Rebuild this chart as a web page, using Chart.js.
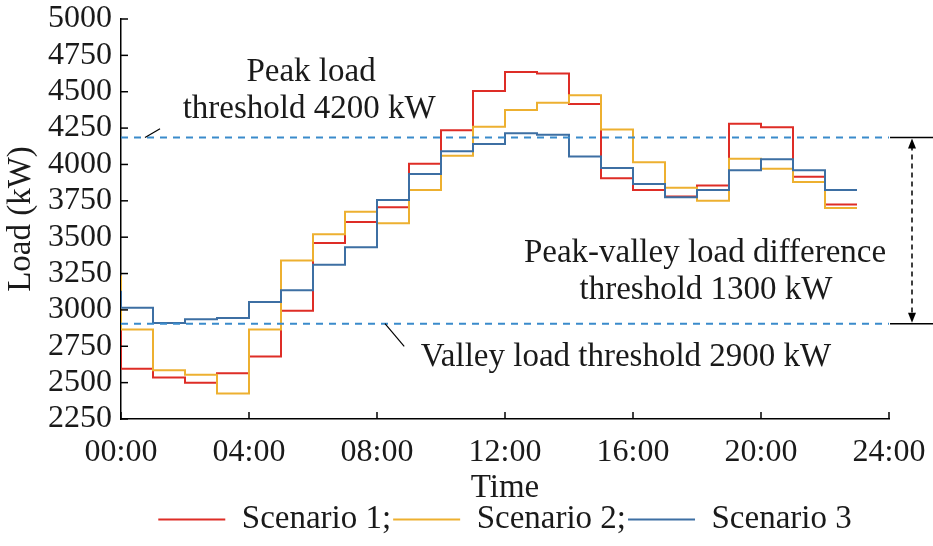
<!DOCTYPE html>
<html>
<head>
<meta charset="utf-8">
<script src="https://cdn.jsdelivr.net/npm/chart.js@4.4.0/dist/chart.umd.min.js"></script>
<style>
  html, body { margin: 0; padding: 0; background: #fff; }
  #wrap { width: 933px; height: 546px; }
</style>
</head>
<body>
<div id="wrap"><canvas id="loadChart" width="933" height="546"></canvas></div>
<script>
// hour at which each step starts (last step runs to 23:00)
const hours = [0, 1, 2, 3, 4, 5, 6, 7, 8, 9, 10, 11, 12, 13, 14, 15, 16, 17, 18, 19, 20, 21, 22];

// load per hour, kW
const scenario1 = [2595, 2535, 2500, 2565, 2680, 2995, 3460, 3605, 3705, 4005, 4235, 4505,
                   4635, 4625, 4415, 3905, 3825, 3780, 3855, 4280, 4255, 3915, 3725];
const scenario2 = [2865, 2585, 2555, 2425, 2865, 3340, 3520, 3675, 3595, 3825, 4060, 4260,
                   4375, 4425, 4475, 4240, 4015, 3840, 3750, 4040, 3970, 3880, 3700];
const scenario3 = [3015, 2910, 2935, 2945, 3055, 3135, 3310, 3430, 3755, 3935, 4090, 4140,
                   4215, 4205, 4055, 3975, 3865, 3775, 3825, 3960, 4035, 3960, 3825];

// value just before 00:00, only the vertical jump at the axis is visible
const startLoad = [2870, 3230, 3125];

const seriesLabels = ["Scenario 1;", "Scenario 2;", "Scenario 3"];
const seriesColors = ["#DE2D26", "#EDB030", "#3D6FA3"];

const peakThreshold = 4185;
const valleyThreshold = 2905;

const xTickLabels = ["00:00", "04:00", "08:00", "12:00", "16:00", "20:00", "24:00"];

const FONT = '"Liberation Serif", "Times New Roman", serif';

function stairs(values, start) {
  const pts = [{ x: -1, y: start }];
  hours.forEach(function (h, i) {
    pts.push({ x: h, y: values[i] });
  });
  // close the last step at 23:00
  pts.push({ x: hours[hours.length - 1] + 1, y: values[values.length - 1] });
  return pts;
}

const allSeries = [scenario1, scenario2, scenario3];

const datasets = allSeries.map(function (vals, i) {
  return {
    label: seriesLabels[i],
    data: stairs(vals, startLoad[i]),
    borderColor: seriesColors[i],
    backgroundColor: seriesColors[i],
    borderWidth: 2,
    stepped: true,
    pointRadius: 0,
    fill: false,
    order: 3 - i
  };
});

// threshold lines
[peakThreshold, valleyThreshold].forEach(function (v) {
  datasets.push({
    label: "",
    data: [{ x: 0, y: v }, { x: 24, y: v }],
    borderColor: "#3A8BCB",
    borderWidth: 2,
    borderDash: [7, 6],
    pointRadius: 0,
    fill: false,
    order: 0
  });
});

function line(ctx, x1, y1, x2, y2) {
  ctx.beginPath();
  ctx.moveTo(x1, y1);
  ctx.lineTo(x2, y2);
  ctx.stroke();
}

// inward ticks, threshold notes and the right-hand bracket
const annotations = {
  id: "annotations",
  afterDraw(chart) {
    const ctx = chart.ctx;
    const x = chart.scales.x;
    const y = chart.scales.y;
    ctx.save();
    ctx.strokeStyle = "#000";
    ctx.lineWidth = 1.5;

    y.ticks.forEach(function (t) {
      const py = y.getPixelForValue(t.value);
      line(ctx, x.left, py, x.left + 7, py);
    });
    x.ticks.forEach(function (t) {
      const px = x.getPixelForValue(t.value);
      line(ctx, px, y.bottom, px, y.bottom - 7);
    });

    const pY = y.getPixelForValue(peakThreshold);
    const vY = y.getPixelForValue(valleyThreshold);

    // leader lines
    ctx.lineWidth = 1.2;
    line(ctx, x.getPixelForValue(0.75), pY, x.getPixelForValue(1.22), y.getPixelForValue(4245));
    line(ctx, x.getPixelForValue(8.25), vY, x.getPixelForValue(8.85), y.getPixelForValue(2750));

    // bracket on the right
    ctx.lineWidth = 1.5;
    line(ctx, 890, pY, 933, pY);
    line(ctx, 890, vY, 933, vY);
    const ax = 912;
    ctx.setLineDash([5, 4]);
    line(ctx, ax, pY + 8, ax, vY - 8);
    ctx.setLineDash([]);
    ctx.fillStyle = "#000";
    ctx.beginPath();
    ctx.moveTo(ax, pY + 1); ctx.lineTo(ax - 4, pY + 11); ctx.lineTo(ax + 4, pY + 11);
    ctx.closePath(); ctx.fill();
    ctx.beginPath();
    ctx.moveTo(ax, vY - 1); ctx.lineTo(ax - 4, vY - 11); ctx.lineTo(ax + 4, vY - 11);
    ctx.closePath(); ctx.fill();

    // notes
    ctx.fillStyle = "#1a1a1a";
    ctx.font = "33px " + FONT;
    ctx.textAlign = "center";
    ctx.textBaseline = "middle";
    ctx.fillText("Peak load", x.getPixelForValue(5.94), 72);
    ctx.fillText("threshold 4200 kW", x.getPixelForValue(5.88), 109);
    ctx.fillText("Peak-valley load difference", x.getPixelForValue(18.25), 253);
    ctx.fillText("threshold 1300 kW", x.getPixelForValue(18.28), 290);
    ctx.fillText("Valley load threshold 2900 kW", x.getPixelForValue(15.78), 357);
    ctx.restore();
  }
};

const ctx = document.getElementById("loadChart").getContext("2d");
const loadChart = new Chart(ctx, {
  type: "line",
  data: { datasets: datasets },
  options: {
    responsive: false,
    animation: false,
    devicePixelRatio: 1,
    layout: { padding: { left: 0, right: 44, top: 19, bottom: 0 } },
    plugins: {
      tooltip: { enabled: false },
      legend: {
        position: "bottom",
        fullSize: false,
        labels: {
          filter: function (item) { return item.text !== ""; },
          sort: function (a, b) { return a.datasetIndex - b.datasetIndex; },
          usePointStyle: true,
          pointStyle: "line",
          pointStyleWidth: 67,
          boxHeight: 2,
          padding: 2,
          color: "#1a1a1a",
          font: { family: FONT, size: 33 }
        }
      }
    },
    scales: {
      x: {
        type: "linear",
        min: 0,
        max: 24,
        afterFit: function (scale) {
          scale.height = 82;
          scale.paddingLeft = 0;
          scale.paddingRight = 0;
        },
        grid: { display: false, drawTicks: false },
        border: { display: true, color: "#000", width: 1.5 },
        ticks: {
          stepSize: 4,
          padding: 14,
          autoSkip: false,
          color: "#1a1a1a",
          font: { family: FONT, size: 32 },
          maxRotation: 0,
          callback: function (v) { return xTickLabels[v / 4]; }
        },
        title: {
          display: true,
          text: "Time",
          color: "#1a1a1a",
          padding: { top: 0, bottom: -4 },
          font: { family: FONT, size: 33, lineHeight: 1.0 }
        }
      },
      y: {
        min: 2250,
        max: 5000,
        afterFit: function (scale) {
          scale.width = 121;
          scale.paddingTop = 0;
          scale.paddingBottom = 0;
        },
        grid: { display: false, drawTicks: false },
        border: { display: true, color: "#000", width: 1.5 },
        ticks: {
          stepSize: 250,
          padding: 9,
          autoSkip: false,
          color: "#1a1a1a",
          font: { family: FONT, size: 32 },
          callback: function (v) { return String(v); }
        },
        title: {
          display: true,
          text: "Load (kW)",
          color: "#1a1a1a",
          padding: { top: 2, bottom: 0 },
          font: { family: FONT, size: 33 }
        }
      }
    }
  },
  plugins: [annotations]
});
</script>
</body>
</html>
